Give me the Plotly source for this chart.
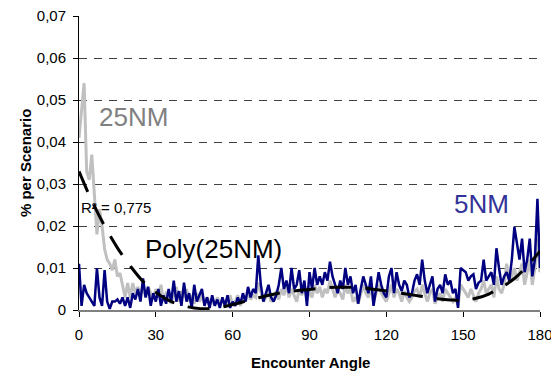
import plotly.graph_objects as go

angles = list(range(0, 181))

nm5 = [
    0.011, 0.001, 0.006, 0.004, 0.003, 0.002, 0.001, 0.010, 0.003, 0.001,
    0.0095, 0.002, 0.0003, 0.002, 0.002, 0.0025, 0.0015, 0.003, 0.001, 0.003,
    0.0005, 0.004, 0.0025, 0.005, 0.002, 0.0075, 0.003, 0.0055, 0.001, 0.004,
    0.002, 0.005, 0.001, 0.0035, 0.0015, 0.005, 0.002, 0.007, 0.002, 0.0045,
    0.001, 0.0065, 0.002, 0.004, 0.0005, 0.006, 0.002, 0.0035, 0.005, 0.001,
    0.003, 0.0005, 0.0035, 0.001, 0.0025, 0.0005, 0.003, 0.001, 0.0035, 0.0005,
    0.002, 0.001, 0.003, 0.0015, 0.004, 0.002, 0.0055, 0.003, 0.005, 0.004,
    0.013, 0.006, 0.002, 0.004, 0.006, 0.003, 0.002, 0.0035, 0.006, 0.010,
    0.005, 0.007, 0.004, 0.010, 0.005, 0.006, 0.0095, 0.004, 0.007, 0.001,
    0.009, 0.005, 0.010, 0.006, 0.008, 0.006, 0.009, 0.007, 0.0115, 0.008,
    0.006, 0.004, 0.007, 0.005, 0.010, 0.006, 0.008, 0.004, 0.006, 0.0015,
    0.005, 0.008, 0.006, 0.004, 0.008, 0.001, 0.005, 0.009, 0.006, 0.004,
    0.003, 0.008, 0.010, 0.004, 0.009, 0.006, 0.0045, 0.007, 0.006, 0.003,
    0.004, 0.007, 0.0085, 0.006, 0.012, 0.007, 0.004, 0.006, 0.008, 0.002,
    0.005, 0.006, 0.004, 0.0085, 0.006, 0.007, 0.004, 0.005, 0.0005, 0.010,
    0.0095, 0.009, 0.007, 0.008, 0.0085, 0.005, 0.0065, 0.007, 0.012, 0.007,
    0.008, 0.009, 0.006, 0.0147, 0.010, 0.006, 0.008, 0.009, 0.007, 0.012,
    0.0198, 0.016, 0.012, 0.017, 0.009, 0.012, 0.017, 0.008, 0.012, 0.0265,
    0.010,
]

nm25 = [
    0.041, 0.048, 0.054, 0.033, 0.031, 0.037, 0.027, 0.018, 0.024, 0.020,
    0.0145, 0.012, 0.011, 0.0095, 0.012, 0.008, 0.0088, 0.006, 0.003, 0.0064,
    0.003, 0.0064, 0.004, 0.0055, 0.0035, 0.006, 0.003, 0.0055, 0.004, 0.0025,
    0.005, 0.003, 0.006, 0.002, 0.004, 0.0035, 0.0015, 0.004, 0.0055, 0.002,
    0.0045, 0.003, 0.005, 0.002, 0.0035, 0.0015, 0.004, 0.002, 0.0035, 0.0015,
    0.003, 0.002, 0.0025, 0.001, 0.003, 0.0015, 0.0025, 0.001, 0.0015, 0.0035,
    0.001, 0.002, 0.0035, 0.001, 0.003, 0.002, 0.004, 0.0025, 0.0035, 0.003,
    0.0065, 0.004, 0.002, 0.003, 0.0045, 0.002, 0.003, 0.0045, 0.0025, 0.005,
    0.0035, 0.006, 0.003, 0.005, 0.0035, 0.002, 0.005, 0.0035, 0.006, 0.0025,
    0.0045, 0.003, 0.006, 0.004, 0.0055, 0.003, 0.005, 0.004, 0.007, 0.005,
    0.003, 0.005, 0.004, 0.0025, 0.006, 0.004, 0.005, 0.002, 0.003, 0.0015,
    0.004, 0.006, 0.004, 0.003, 0.0055, 0.002, 0.004, 0.006, 0.004, 0.003,
    0.002, 0.004, 0.006, 0.003, 0.005, 0.004, 0.002, 0.0045, 0.003, 0.002,
    0.003, 0.0045, 0.005, 0.003, 0.006, 0.004, 0.002, 0.004, 0.005, 0.0015,
    0.003, 0.004, 0.002, 0.005, 0.004, 0.003, 0.002, 0.003, 0.001, 0.006,
    0.005, 0.004, 0.003, 0.005, 0.0035, 0.002, 0.004, 0.005, 0.007, 0.004,
    0.005, 0.006, 0.003, 0.008, 0.005, 0.004, 0.006, 0.011, 0.007, 0.008,
    0.010, 0.007, 0.009, 0.011, 0.006, 0.009, 0.012, 0.006, 0.010, 0.017,
    0.009,
]

trend_angles = [0, 5, 10, 15, 20, 25, 30, 35, 40, 45, 50, 55, 60, 70, 80, 90,
                100, 110, 120, 130, 140, 145, 150, 155, 160, 170, 180]
trend_vals = [0.033, 0.026, 0.020, 0.0148, 0.0105, 0.0068, 0.0042, 0.0023, 0.0011,
              0.0005, 0.0003, 0.0006, 0.0013, 0.0029, 0.0042, 0.0049, 0.0054, 0.0053,
              0.0045, 0.0036, 0.0027, 0.0024, 0.0023, 0.0028, 0.0038, 0.0075, 0.0140]

x_ticks = [0, 30, 60, 90, 120, 150, 180]
y_ticks = [0, 0.01, 0.02, 0.03, 0.04, 0.05, 0.06, 0.07]
y_ticktext = ["0", "0,01", "0,02", "0,03", "0,04", "0,05", "0,06", "0,07"]

FONT = "Liberation Sans, Arial, sans-serif"

fig = go.Figure()
fig.add_trace(go.Scatter(x=angles, y=nm25, mode="lines", name="25NM",
                         line=dict(color="#c0c0c0", width=3)))
fig.add_trace(go.Scatter(x=angles, y=nm5, mode="lines", name="5NM",
                         line=dict(color="#000080", width=2.5)))
fig.add_trace(go.Scatter(x=trend_angles, y=trend_vals, mode="lines", name="Poly(25NM)",
                         line=dict(color="#000000", width=3, dash="22px,14px", shape="spline")))

fig.update_layout(
    width=551, height=376,
    margin=dict(l=79, r=11, t=16, b=66),
    paper_bgcolor="white", plot_bgcolor="white",
    showlegend=False,
    font=dict(family=FONT, color="black", size=15),
    xaxis=dict(range=[0, 180], tickvals=x_ticks, ticks="outside", ticklen=5,
               tickcolor="black", showline=True, linecolor="#808080", linewidth=1.5,
               showgrid=False, zeroline=False, tickfont=dict(size=15),
               ticklabelstandoff=5, ticklabeloverflow="allow", automargin=False),
    yaxis=dict(range=[0, 0.07], tickvals=y_ticks, ticktext=y_ticktext,
               ticks="outside", ticklen=5, tickcolor="black",
               showline=True, linecolor="black", linewidth=1,
               showgrid=True, gridcolor="#404040", gridwidth=1, griddash="8px,7px",
               zeroline=False, tickfont=dict(size=15), ticklabelstandoff=4,
               ticklabeloverflow="allow", automargin=False),
    annotations=[
        dict(text="<b>Encounter Angle</b>", xref="paper", yref="paper", x=0.502, y=-0.18,
             showarrow=False, font=dict(size=15), xanchor="center", yanchor="middle"),
        dict(text="<b>% per Scenario</b>", xref="paper", yref="paper", x=-0.117, y=0.5,
             showarrow=False, font=dict(size=15), textangle=-90,
             xanchor="center", yanchor="middle"),
        dict(text="25NM", x=21.3, y=0.046, showarrow=False,
             font=dict(size=26, color="#808080"), xanchor="center", yanchor="middle"),
        dict(text="5NM", x=157, y=0.0253, showarrow=False,
             font=dict(size=26, color="#333399"), xanchor="center", yanchor="middle"),
        dict(text="Poly(25NM)", x=52.4, y=0.0146, showarrow=False,
             font=dict(size=26, color="black"), xanchor="center", yanchor="middle"),
        dict(text="R² = 0,775", x=14.3, y=0.0243, showarrow=False,
             font=dict(size=15, color="black"), xanchor="center", yanchor="middle"),
    ],
)

fig.write_html("out.html")
